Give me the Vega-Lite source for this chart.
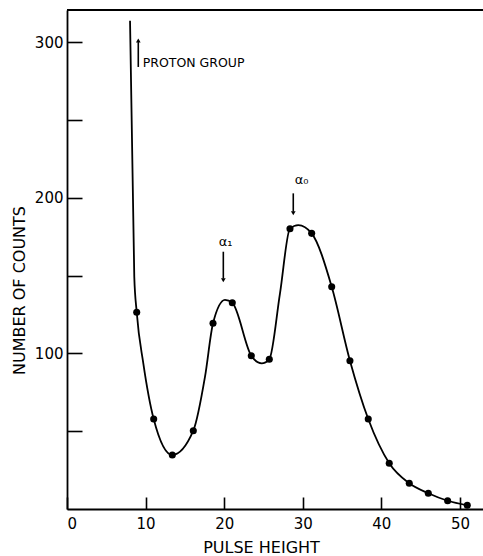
{
  "$schema": "https://vega.github.io/schema/vega-lite/v6.json",
  "width": 416,
  "height": 499,
  "autosize": {"type": "none"},
  "padding": {"left": 67, "top": 10, "right": 0, "bottom": 47},
  "background": "white",
  "config": {
    "view": {"stroke": null},
    "font": "DejaVu Sans",
    "axis": {"grid": false, "domainColor": "black", "domainWidth": 1.8, "tickColor": "black", "tickWidth": 1.6, "labelColor": "black", "titleColor": "black", "labelFont": "DejaVu Sans", "titleFont": "DejaVu Sans", "titleFontWeight": "normal"}
  },
  "datasets": {
    "points": [
      {"x": 8.87, "y": 126.4}, {"x": 11.03, "y": 57.8}, {"x": 13.4, "y": 34.7},
      {"x": 16.07, "y": 50.3}, {"x": 18.58, "y": 119.3}, {"x": 21.03, "y": 132.5},
      {"x": 23.45, "y": 98.5}, {"x": 25.74, "y": 96.2}, {"x": 28.37, "y": 180.1},
      {"x": 31.13, "y": 177.1}, {"x": 33.68, "y": 142.8}, {"x": 36.0, "y": 95.3},
      {"x": 38.33, "y": 57.8}, {"x": 41.0, "y": 29.4}, {"x": 43.55, "y": 16.5},
      {"x": 45.97, "y": 10.1}, {"x": 48.43, "y": 5.3}, {"x": 50.93, "y": 2.4}
    ],
    "curve": [
      {"x": 8.02, "y": 313.7}, {"x": 8.56, "y": 149.2}, {"x": 8.87, "y": 126.4},
      {"x": 9.71, "y": 93.6}, {"x": 11.03, "y": 57.8}, {"x": 13.4, "y": 34.7},
      {"x": 16.07, "y": 50.3}, {"x": 17.56, "y": 85}, {"x": 18.58, "y": 119.3},
      {"x": 20.1, "y": 134.3}, {"x": 21.03, "y": 132.5}, {"x": 23.45, "y": 98.5},
      {"x": 24.77, "y": 93.6}, {"x": 25.74, "y": 96.2}, {"x": 27.1, "y": 138.6},
      {"x": 28.37, "y": 180.1}, {"x": 29.43, "y": 182.4}, {"x": 31.13, "y": 177.1},
      {"x": 33.68, "y": 142.8}, {"x": 36.0, "y": 95.3}, {"x": 38.33, "y": 57.8},
      {"x": 41.0, "y": 29.4}, {"x": 43.55, "y": 16.5}, {"x": 45.97, "y": 10.1},
      {"x": 48.43, "y": 5.3}, {"x": 50.93, "y": 2.4}
    ],
    "arrows": [
      {"x": 9.07, "y": 284, "y2": 300, "head": 301, "shape": "triangle-up"},
      {"x": 19.89, "y": 165.3, "y2": 148, "head": 147, "shape": "triangle-down"},
      {"x": 28.79, "y": 202.8, "y2": 191, "head": 190, "shape": "triangle-down"}
    ],
    "alphas": [
      {"x": 20.19, "y": 171.3, "text": "α₁"},
      {"x": 29.86, "y": 211.3, "text": "α₀"}
    ]
  },
  "encoding": {
    "x": {
      "type": "quantitative",
      "scale": {"domain": [0, 52.93], "nice": false, "zero": false},
      "axis": {
        "title": "PULSE HEIGHT", "titleFontSize": 16, "titleX": 194, "titleY": 38, "titleBaseline": "middle", "titleAlign": "center",
        "values": [0, 10, 20, 30, 40, 50], "format": "d",
        "tickSize": -12, "labelPadding": 19, "labelFontSize": 15
      }
    },
    "y": {
      "type": "quantitative",
      "scale": {"domain": [0, 320.6], "nice": false, "zero": false},
      "axis": {
        "title": "NUMBER OF COUNTS", "titleFontSize": 16, "titleX": -48, "titleY": 280, "titleAngle": -90, "titleBaseline": "middle", "titleAlign": "center",
        "values": [50, 100, 150, 200, 250, 300],
        "labelExpr": "datum.value % 100 === 0 ? datum.label : ''",
        "tickSize": -15, "labelPadding": 19, "labelFontSize": 15
      }
    }
  },
  "layer": [
    {
      "data": {"name": "curve"},
      "mark": {"type": "line", "interpolate": "monotone", "color": "black", "strokeWidth": 1.8},
      "encoding": {
        "x": {"field": "x"},
        "y": {"field": "y"}
      }
    },
    {
      "data": {"name": "points"},
      "mark": {"type": "point", "filled": true, "color": "black", "size": 50, "opacity": 1},
      "encoding": {
        "x": {"field": "x"},
        "y": {"field": "y"}
      }
    },
    {
      "data": {"name": "arrows"},
      "mark": {"type": "rule", "color": "black", "strokeWidth": 1.6},
      "encoding": {
        "x": {"field": "x"},
        "y": {"field": "y"},
        "y2": {"field": "y2"}
      }
    },
    {
      "data": {"name": "arrows"},
      "mark": {"type": "point", "filled": true, "color": "black", "size": 22, "opacity": 1},
      "encoding": {
        "x": {"field": "x"},
        "y": {"field": "head"},
        "shape": {"field": "shape", "type": "nominal", "scale": null, "legend": null}
      }
    },
    {
      "data": {"values": [{"x": 9.63, "y": 286.3, "text": "PROTON GROUP"}]},
      "mark": {"type": "text", "color": "black", "baseline": "middle", "align": "left", "fontSize": 12.5, "font": "DejaVu Sans"},
      "encoding": {
        "x": {"field": "x"},
        "y": {"field": "y"},
        "text": {"field": "text"}
      }
    },
    {
      "data": {"name": "alphas"},
      "mark": {"type": "text", "color": "black", "baseline": "middle", "align": "center", "fontSize": 13, "font": "DejaVu Sans"},
      "encoding": {
        "x": {"field": "x"},
        "y": {"field": "y"},
        "text": {"field": "text"}
      }
    },
    {
      "data": {"values": [{"top": 320.6}]},
      "mark": {"type": "rule", "color": "black", "strokeWidth": 1.8},
      "encoding": {
        "y": {"field": "top"}
      }
    }
  ]
}
